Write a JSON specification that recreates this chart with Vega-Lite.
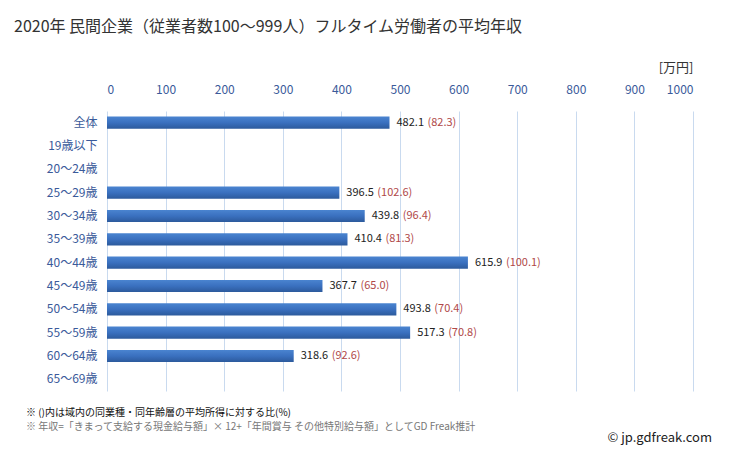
{
  "$schema": "https://vega.github.io/schema/vega-lite/v6.json",
  "padding": {"left": 14, "top": 19, "right": 15, "bottom": 5},
  "background": "white",
  "title": {
    "text": "2020年 民間企業（従業者数100～999人）フルタイム労働者の平均年収",
    "anchor": "start", "fontSize": 16, "font": "Noto Sans CJK JP",
    "fontWeight": "normal", "color": "#333333", "offset": 26, "dx": -12
  },
  "config": {"font": "Noto Sans CJK JP", "view": {"stroke": null}},
  "spacing": 17,
  "vconcat": [
    {
      "width": 586,
      "height": 280,
      "data": {"values": [
        {"age": "全体", "income": 482.1, "ratio": 82.3},
        {"age": "19歳以下", "income": null, "ratio": null},
        {"age": "20～24歳", "income": null, "ratio": null},
        {"age": "25～29歳", "income": 396.5, "ratio": 102.6},
        {"age": "30～34歳", "income": 439.8, "ratio": 96.4},
        {"age": "35～39歳", "income": 410.4, "ratio": 81.3},
        {"age": "40～44歳", "income": 615.9, "ratio": 100.1},
        {"age": "45～49歳", "income": 367.7, "ratio": 65.0},
        {"age": "50～54歳", "income": 493.8, "ratio": 70.4},
        {"age": "55～59歳", "income": 517.3, "ratio": 70.8},
        {"age": "60～64歳", "income": 318.6, "ratio": 92.6},
        {"age": "65～69歳", "income": null, "ratio": null}
      ]},
      "encoding": {
        "y": {
          "field": "age", "type": "nominal", "sort": null,
          "scale": {"domain": ["全体", "19歳以下", "20～24歳", "25～29歳", "30～34歳", "35～39歳", "40～44歳", "45～49歳", "50～54歳", "55～59歳", "60～64歳", "65～69歳"],
                    "paddingInner": 0.48, "paddingOuter": 0.24},
          "axis": {"title": null, "ticks": false, "domain": false, "grid": false,
                   "labelPadding": 10, "labelFontSize": 12, "labelColor": "#3a5a9a"}
        }
      },
      "layer": [
        {
          "mark": {"type": "bar", "color": {"gradient": "linear", "x1": 0, "y1": 0, "x2": 0, "y2": 1,
            "stops": [{"offset": 0, "color": "#4a84d0"}, {"offset": 0.5, "color": "#3a70bf"}, {"offset": 1, "color": "#2c5a9c"}]}},
          "encoding": {
            "x": {"field": "income", "type": "quantitative",
                  "scale": {"domain": [0, 1000]},
                  "axis": {"orient": "top", "domain": false, "ticks": false, "grid": true, "format": "d",
                           "gridColor": "#c9daef", "values": [0,100,200,300,400,500,600,700,800,900,1000],
                           "labelColor": "#3a5a9a", "labelFontSize": 12, "labelPadding": 15,
                           "title": "[万円]", "titleAnchor": "end", "titleFontWeight": "normal",
                           "titleFontSize": 13, "titleColor": "#333333", "titlePadding": 9}}
          }
        },
        {
          "transform": [{"filter": "datum.income != null"}],
          "mark": {"type": "text", "align": "left", "dx": 7, "fontSize": 11, "color": "#222222"},
          "encoding": {
            "x": {"field": "income", "type": "quantitative"},
            "text": {"field": "income", "type": "quantitative", "format": ".1f"}
          }
        },
        {
          "transform": [
            {"filter": "datum.income != null"},
            {"calculate": "'(' + format(datum.ratio, '.1f') + ')'", "as": "ratio_label"}
          ],
          "mark": {"type": "text", "align": "left", "dx": 38, "fontSize": 11, "color": "#b04848"},
          "encoding": {
            "x": {"field": "income", "type": "quantitative"},
            "text": {"field": "ratio_label"}
          }
        }
      ]
    },
    {
      "width": 605,
      "height": 12,
      "title": {
        "text": "※ ()内は域内の同業種・同年齢層の平均所得に対する比(%)",
        "subtitle": "※ 年収=「きまって支給する現金給与額」× 12+「年間賞与 その他特別給与額」としてGD Freak推計",
        "anchor": "start", "fontSize": 10, "subtitleFontSize": 10, "color": "#111111",
        "subtitleColor": "#777777", "fontWeight": "normal", "dx": -81, "offset": 0, "subtitlePadding": 4
      },
      "data": {"values": [{"site": "© jp.gdfreak.com"}]},
      "mark": {"type": "text", "align": "right", "fontSize": 13, "color": "#222222", "dy": -9},
      "encoding": {
        "x": {"datum": 1, "type": "quantitative", "scale": {"domain": [0, 1]}, "axis": null},
        "text": {"field": "site"}
      }
    }
  ]
}
